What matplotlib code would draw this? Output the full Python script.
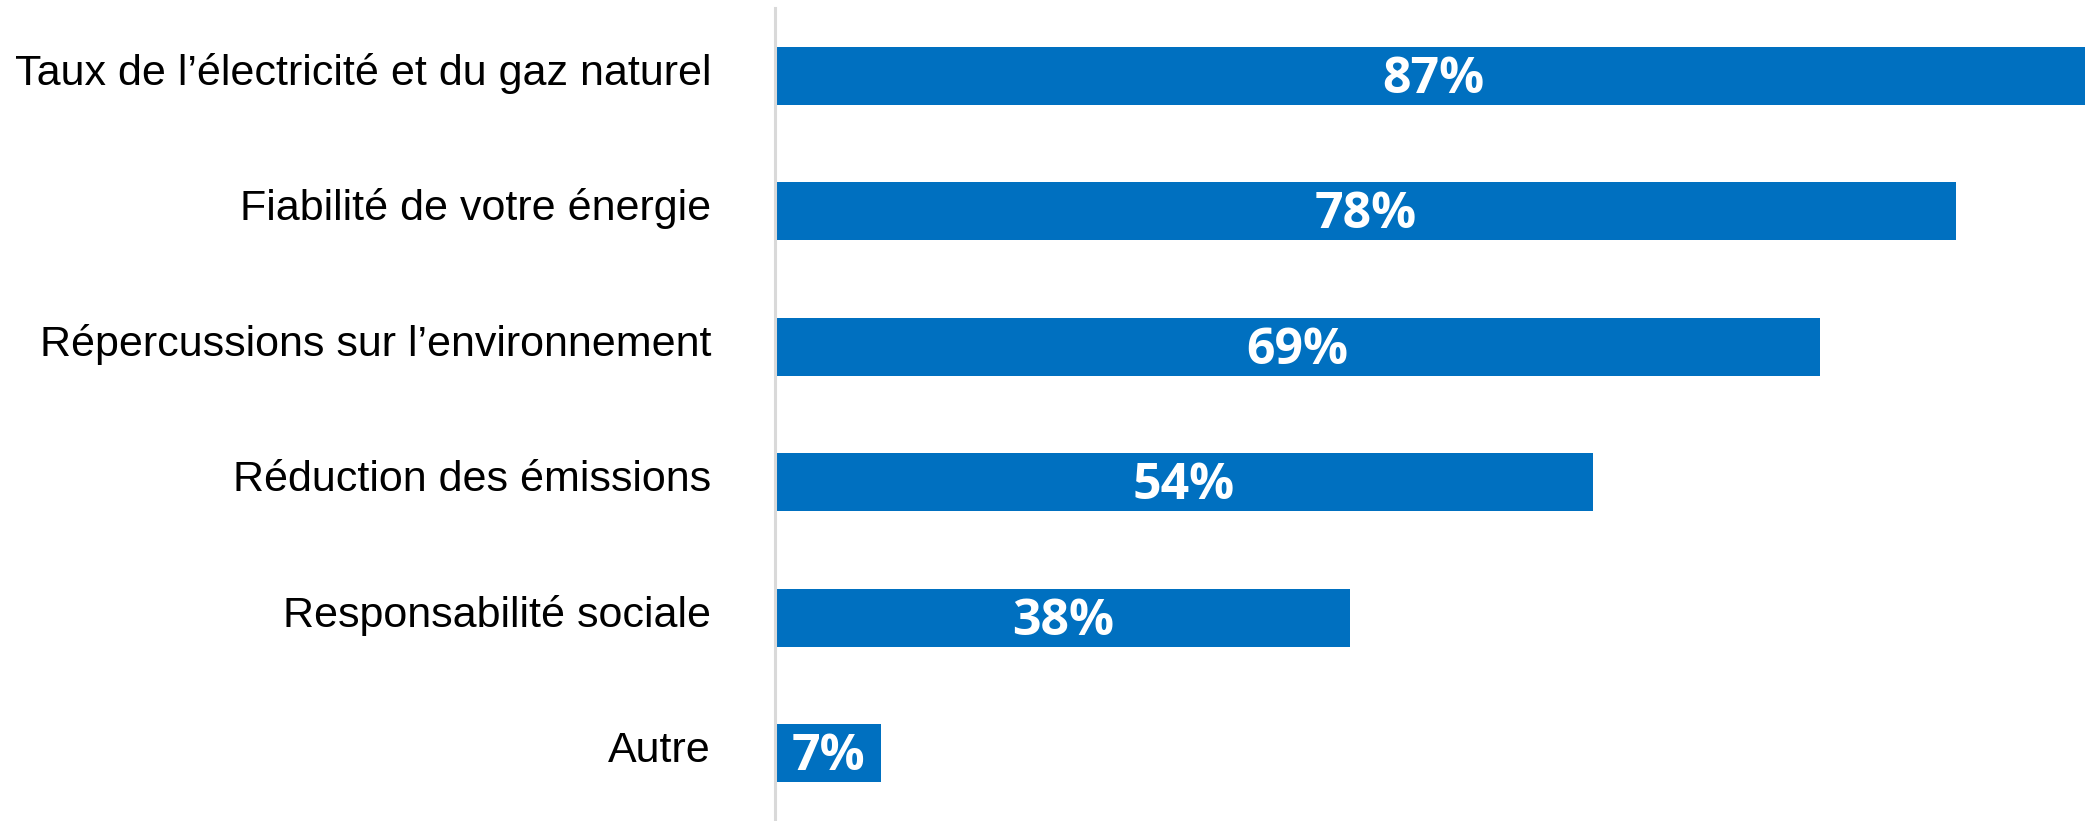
import matplotlib.pyplot as plt
from matplotlib.transforms import ScaledTranslation

categories = [
    "Taux de l\u2019électricité et du gaz naturel",
    "Fiabilité de votre énergie",
    "Répercussions sur l\u2019environnement",
    "Réduction des émissions",
    "Responsabilité sociale",
    "Autre",
]
values = [87, 78, 69, 54, 38, 7]
labels = ["87%", "78%", "69%", "54%", "38%", "7%"]

fig = plt.figure(figsize=(20.85, 8.21), dpi=100)
ax = fig.add_axes([775 / 2085, 0, 1 - 775 / 2085, 1 - 8 / 821])

y = list(range(len(categories)))
ax.barh(y, values, height=0.43, color="#0070C0")

for yi, v, lab in zip(y, values, labels):
    ax.text(v / 2, yi + 0.03, lab, ha="center", va="center", color="white",
            fontsize=36, fontweight="bold", family="Open Sans")

ax.set_xlim(0, 86.5)
ax.set_ylim(5.5, -0.5)
ax.set_yticks(y)
ax.set_yticklabels(categories, family="Liberation Sans", fontsize=31)
ax.tick_params(axis="y", length=0, pad=46)
# nudge category labels up a little
shift = ScaledTranslation(0, 5 / 72, fig.dpi_scale_trans)
for t in ax.get_yticklabels():
    t.set_transform(t.get_transform() + shift)
ax.set_xticks([])

for s in ["top", "right", "bottom"]:
    ax.spines[s].set_visible(False)
ax.spines["left"].set_color("#d9d9d9")
ax.spines["left"].set_linewidth(2.2)

fig.savefig("out.png", dpi=100)
